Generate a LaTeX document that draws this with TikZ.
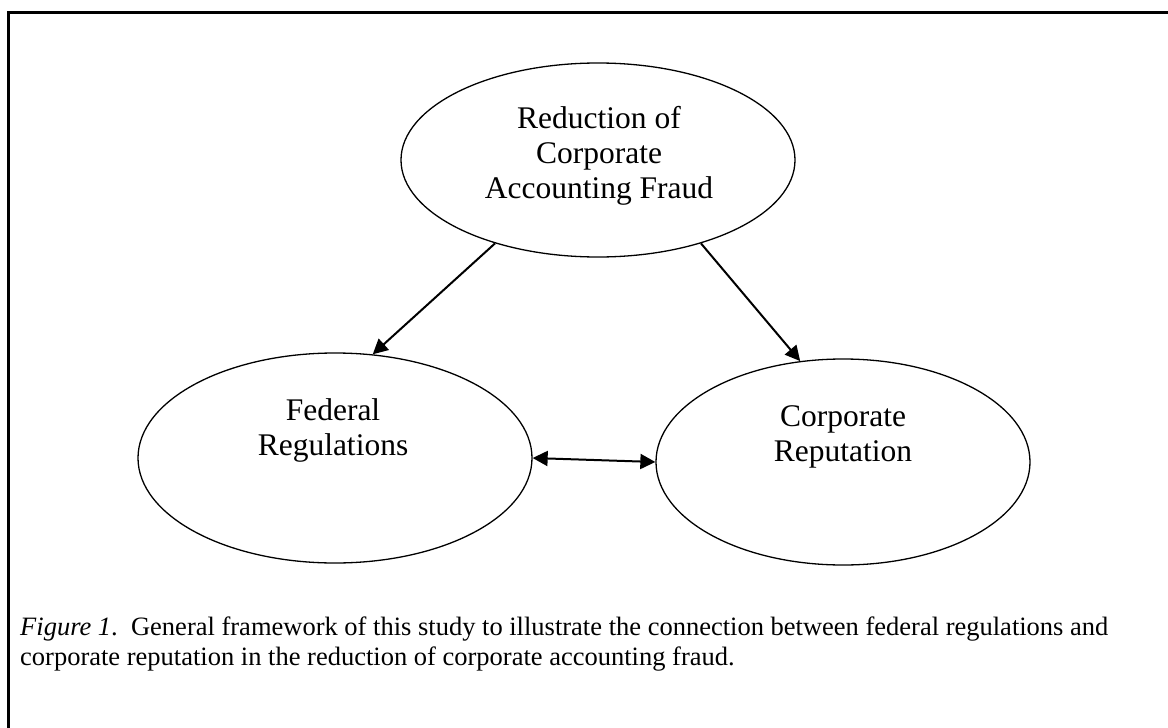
\documentclass[tikz,border=0pt]{standalone}
\usepackage{fontspec}
\setmainfont{Liberation Serif}
\usetikzlibrary{shapes.geometric,arrows.meta}
\begin{document}
\begin{tikzpicture}[x=1pt,y=-1pt,
  bubble/.style={draw,ellipse,line width=1.3pt,inner sep=0pt},
  bubbletext/.style={align=center,inner sep=0pt,font=\fontsize{31.5}{35}\selectfont},
  link/.style={line width=2pt,-{Triangle[length=15pt,width=15pt]}},
  dlink/.style={line width=2pt,{Triangle[length=15pt,width=15pt]}-{Triangle[length=15pt,width=15pt]}},
  frameline/.style={line width=3pt,line cap=butt,line join=miter}]
\useasboundingbox (0,0) rectangle (1168,728);
\fill[white] (0,0) rectangle (1168,728);

% open frame: top and left edges only
\draw[frameline] (1168,12) -- (8,12) -- (8,728);

% the three concepts
\node[bubble,minimum width=394pt,minimum height=194pt] (fraud) at (598,160) {};
\node[bubble,minimum width=394pt,minimum height=210pt] (fed) at (335,458) {};
\node[bubble,minimum width=374pt,minimum height=206pt] (rep) at (843,462) {};

\node[bubbletext] (fraudtxt) at (599,156) {Reduction of\\Corporate\\Accounting Fraud};
\node[bubbletext] (fedtxt) at (333,430) {Federal\\Regulations};
\node[bubbletext] (reptxt) at (843,437) {Corporate\\Reputation};

% relations
\draw[link] (fraud.219) -- (fed.70);
\draw[link] (fraud.321) -- (rep.113);
\draw[dlink] (fed.east) -- (rep.west);

% caption
\node[anchor=base west,align=left,inner sep=0pt,font=\fontsize{26.5}{30}\selectfont] (caption) at (20,665)
  {\textit{Figure 1}.\ \ General framework of this study to illustrate the connection between federal regulations and\\
   corporate reputation in the reduction of corporate accounting fraud.};
\end{tikzpicture}
\end{document}
